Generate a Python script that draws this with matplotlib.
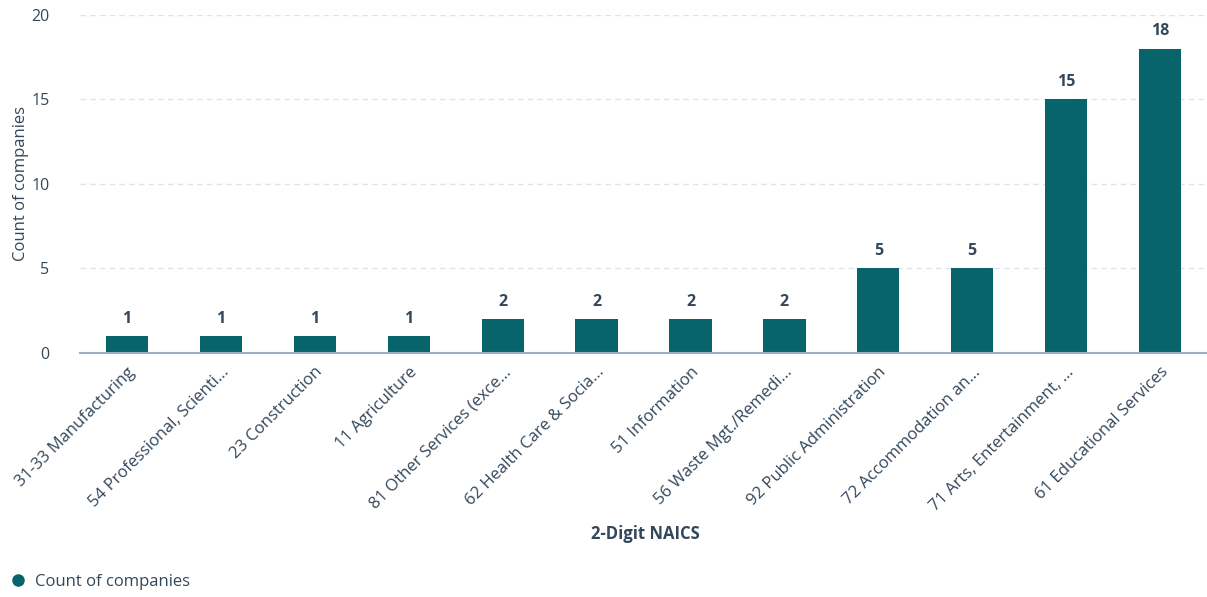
import matplotlib.pyplot as plt
from matplotlib.lines import Line2D

categories = [
    "31-33 Manufacturing",
    "54 Professional, Scienti...",
    "23 Construction",
    "11 Agriculture",
    "81 Other Services (exce...",
    "62 Health Care & Socia...",
    "51 Information",
    "56 Waste Mgt./Remedi...",
    "92 Public Administration",
    "72 Accommodation an...",
    "71 Arts, Entertainment, ...",
    "61 Educational Services",
]
counts = [1, 1, 1, 1, 2, 2, 2, 2, 5, 5, 15, 18]
y_ticks = [0, 5, 10, 15, 20]

BAR = "#07646a"
TEXT = "#33475b"

plt.rcParams["font.family"] = ["Open Sans", "DejaVu Sans"]

fig = plt.figure(figsize=(12.07, 5.97), dpi=100)
ax = fig.add_axes([0.0663, 0.4087, 0.9337, 0.5663])

x = range(len(categories))
ax.bar(x, counts, width=0.45, color=BAR, zorder=3)
for xi, v in zip(x, counts):
    ax.text(xi, v + 0.55, str(v), ha="center", va="bottom",
            fontsize=11.5, fontweight="bold", color=TEXT)

ax.set_xlim(-0.5, len(categories) - 0.5)
ax.set_ylim(0, 20)
ax.set_yticks(y_ticks)
ax.set_xticks(list(x))
ax.set_xticklabels(categories, rotation=45, ha="right", rotation_mode="anchor",
                   fontsize=12, color=TEXT)
ax.tick_params(axis="y", labelsize=11.5, labelcolor=TEXT, length=0, pad=22)
ax.tick_params(axis="x", length=0, pad=8)

ax.grid(axis="y", color="#dfe3eb", linestyle=(0, (4, 3)), linewidth=1, zorder=0)
for s in ["top", "right", "left"]:
    ax.spines[s].set_visible(False)
ax.spines["bottom"].set_color("#99afc4")
ax.spines["bottom"].set_linewidth(1.5)
ax.spines["bottom"].set_zorder(4)

ax.set_ylabel("Count of companies", fontsize=12, color=TEXT)
ax.yaxis.set_label_coords(-0.045, 0.5)
fig.text(0.535, 0.105, "2-Digit NAICS", ha="center", va="center",
         fontsize=12, fontweight="bold", color=TEXT)

handle = Line2D([], [], marker="o", linestyle="none", markersize=8,
                markerfacecolor=BAR, markeredgecolor=BAR)
fig.legend([handle], ["Count of companies"], loc="center left",
           bbox_to_anchor=(0.004, 0.025), frameon=False, fontsize=12,
           handletextpad=0.4, handlelength=1.2, labelcolor=TEXT,
           borderaxespad=0, borderpad=0.2)

fig.savefig("out.png", dpi=100)
